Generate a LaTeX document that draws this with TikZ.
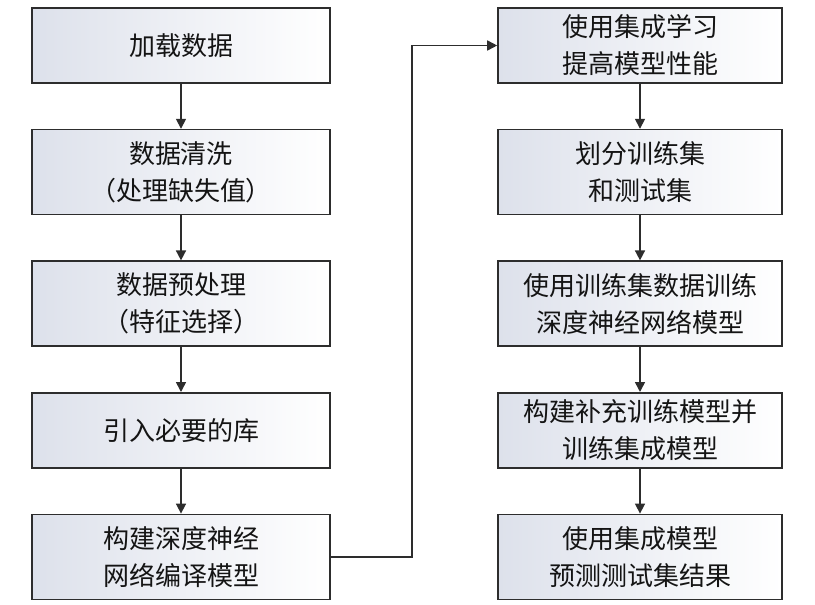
\documentclass[tikz,border=0pt]{standalone}
\usepackage{fontspec}
\setmainfont{Noto Sans CJK SC}
\usetikzlibrary{positioning,arrows.meta}
\definecolor{boxshade}{RGB}{221,225,235}
\definecolor{linegray}{RGB}{45,45,45}
\definecolor{textblack}{RGB}{20,20,20}

\begin{document}
\begin{tikzpicture}[x=1pt,y=-1pt,node distance=45pt,
    stage/.style={draw=linegray,line width=1.6pt,left color=boxshade,right color=white,
      text=textblack,align=center,inner sep=0pt,minimum height=75pt,
      font=\fontsize{26}{37}\selectfont},
    lstage/.style={stage,minimum width=298pt},
    rstage/.style={stage,minimum width=284pt},
    tall/.style={minimum height=85pt},
    flow/.style={draw=linegray,line width=1.6pt,-{Triangle[length=10pt,width=10pt]}}] %
    \useasboundingbox (0,0) rectangle (815,605);
    % left column
    \node[lstage] (load) at (181,45.5) {加载数据} ; %
    \node[lstage, tall, below=of load] (clean) {数据清洗\\（处理缺失值）} ; %
    \node[lstage, tall, below=of clean] (prep) {数据预处理\\（特征选择）} ; %
    \node[lstage, below=of prep] (libs) {引入必要的库} ;
    \node[lstage, tall, below=of libs] (build) {构建深度神经\\网络编译模型} ;
    % right column
    \node[rstage] (ensemble) at (640,45.5) {使用集成学习\\提高模型性能} ; %
    \node[rstage, tall, below=of ensemble] (split) {划分训练集\\和测试集} ;
    \node[rstage, tall, below=of split] (train) {使用训练集数据训练\\深度神经网络模型} ;
    \node[rstage, below=of train] (extra) {构建补充训练模型并\\训练集成模型} ;
    \node[rstage, tall, below=of extra] (predict) {使用集成模型\\预测测试集结果} ;
    \draw[flow] (load)--(clean) ; %
    \draw[flow] (clean) -- (prep);
    \draw[flow] (prep) -- (libs);
    \draw[flow] (libs)--(build);
    \draw[flow] (build.east) -- ++(81,0) |- (ensemble.west);
    \draw[flow] (ensemble)--(split);
    \draw[flow] (split) -- (train);
    \draw[flow] (train)--(extra);
    \draw[flow] (extra) -- (predict);
  \end{tikzpicture}
\end{document}
